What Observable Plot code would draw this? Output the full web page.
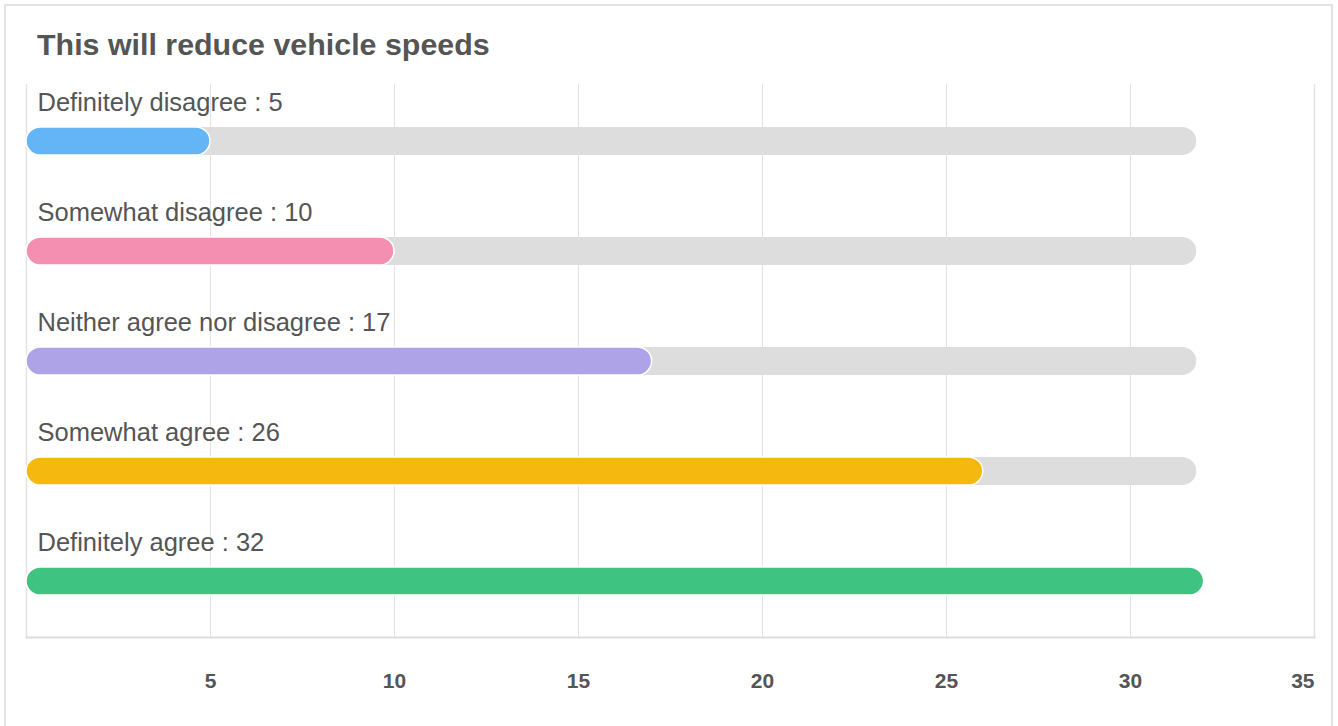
<!DOCTYPE html>
<html><head><meta charset="utf-8">
<script src="https://cdn.jsdelivr.net/npm/d3@7"></script>
<script src="https://cdn.jsdelivr.net/npm/@observablehq/plot@0.6"></script>
<style>
html,body{margin:0;padding:0;background:#fff;overflow:hidden;}
body{font-family:"Liberation Sans",Arial,Helvetica,sans-serif;width:1338px;height:726px;position:relative;}
#card{position:absolute;left:4px;top:4px;width:1325px;height:780px;border:2px solid #e3e3e3;}
#title{position:absolute;left:37px;top:29px;font-weight:bold;font-size:30.4px;line-height:30px;color:#555;white-space:nowrap;}
#chart{position:absolute;left:0;top:0;}
</style>
</head><body>
<div id="card"></div>
<div id="title">This will reduce vehicle speeds</div>
<div id="chart"></div>
<script>
const categories = ["Definitely disagree","Somewhat disagree","Neither agree nor disagree","Somewhat agree","Definitely agree"];
const values = [5,10,17,26,32];
const colors = ["#64b5f6","#f48fb1","#ada3e6","#f4b80e","#3ec480"];
const trackMax = 31.8;
const xTicks = [5,10,15,20,25,30];
const lastTick = [35];

const data = categories.map((c,i)=>({category:c, value:values[i], label:`${c} : ${values[i]}`}));

const inset = 40.9;
const chart = Plot.plot({
  width:1338, height:726,
  marginLeft:26, marginRight:24, marginTop:84, marginBottom:89,
  style:{fontFamily:'"Liberation Sans",Arial,Helvetica,sans-serif', background:"transparent", overflow:"visible"},
  x:{domain:[0,35]},
  y:{domain:categories, axis:null, padding:0},
  color:{domain:categories, range:colors},
  marks:[
    Plot.ruleX(xTicks, {stroke:"#e3e3e3", strokeWidth:1}),
    Plot.ruleX([0,35], {stroke:"#e3e3e3", strokeWidth:1.5}),
    Plot.frame({anchor:"bottom", stroke:"#dcdcdc", strokeWidth:2}),
    Plot.barX(data, {y:"category", x1:0, x2:()=>trackMax, fill:"#dddddd", rx:14.5, insetTop:inset, insetBottom:inset}),
    Plot.barX(data, {y:"category", x1:0, x2:"value", fill:"category", stroke:"white", strokeWidth:1.5, rx:14.5, insetTop:inset, insetBottom:inset}),
    Plot.text(data, {y:"category", x:0, text:"label", textAnchor:"start", lineAnchor:"bottom", dx:11, dy:-31, fontSize:25.5, fill:"#555"}),
    Plot.axisX(xTicks, {tickSize:0, tickPadding:36, fontSize:21, fontWeight:"bold", fill:"#555", label:null}),
    Plot.axisX(lastTick, {tickSize:0, tickPadding:36, fontSize:21, fontWeight:"bold", fill:"#555", textAnchor:"end", label:null})
  ]
});
document.getElementById("chart").appendChild(chart);
</script>
</body></html>
